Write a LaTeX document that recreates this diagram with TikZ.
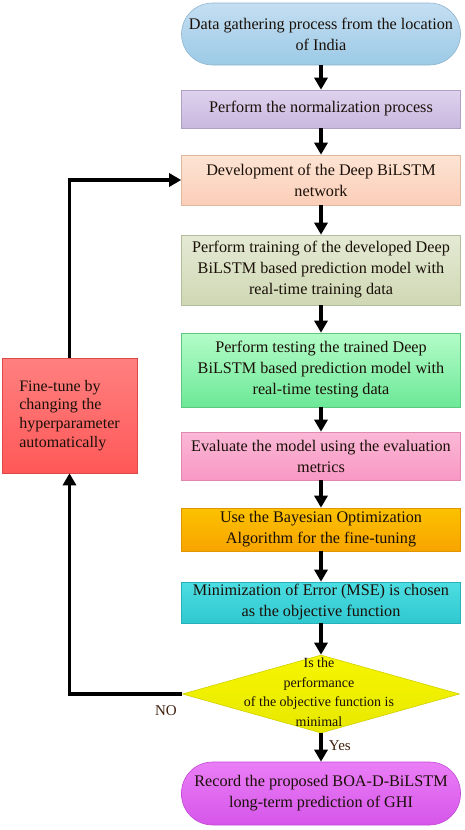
\documentclass[tikz,border=0pt]{standalone}
\usepackage{fontspec}
\setmainfont{Liberation Serif}
\usetikzlibrary{arrows.meta,shapes.geometric}
\definecolor{txt}{HTML}{1A1008}
\definecolor{lbl}{HTML}{40200E}
\tikzset{
  box/.style={rectangle, minimum width=279pt, inner sep=0pt, align=center, text=txt,
    font=\fontsize{16.2}{21}\selectfont, line width=0.6pt},
  arr/.style={line width=3.2pt, -{Triangle[width=13pt,length=12pt]}},
  lab/.style={text=lbl, font=\fontsize{15}{18}\selectfont},
}
\begin{document}
\begin{tikzpicture}[x=1pt,y=1pt]
\useasboundingbox (0,0) rectangle (464,-830);
\node[box, minimum height=62pt, rounded corners=31pt, top color={rgb,255:red,196;green,222;blue,242}, bottom color={rgb,255:red,156;green,202;blue,230}, draw={rgb,255:red,143;green,180;blue,204}] (n1) at (321,-34) {Data gathering process from the location\\of India};
\node[box, minimum height=38pt, top color={rgb,255:red,222;green,210;blue,238}, bottom color={rgb,255:red,200;green,184;blue,222}, draw={rgb,255:red,176;green,160;blue,196}] (n2) at (321,-109) {Perform the normalization process};
\node[box, minimum height=50pt, top color={rgb,255:red,253;green,228;blue,212}, bottom color={rgb,255:red,251;green,206;blue,184}, draw={rgb,255:red,224;green,184;blue,160}] (n3) at (321,-180) {Development of the Deep BiLSTM\\network};
\node[box, minimum height=70pt, top color={rgb,255:red,228;green,234;blue,212}, bottom color={rgb,255:red,207;green,216;blue,180}, draw={rgb,255:red,180;green,188;blue,156}] (n4) at (321,-270) {Perform training of the developed Deep\\BiLSTM based prediction model with\\real-time training data};
\node[box, minimum height=74pt, top color={rgb,255:red,180;green,252;blue,200}, bottom color={rgb,255:red,108;green,232;blue,152}, draw={rgb,255:red,92;green,200;blue,128}] (n5) at (321,-370) {Perform testing the trained Deep\\BiLSTM based prediction model with\\real-time testing data};
\node[box, minimum height=48pt, top color={rgb,255:red,251;green,184;blue,214}, bottom color={rgb,255:red,248;green,152;blue,196}, draw={rgb,255:red,224;green,136;blue,176}] (n6) at (321,-456) {Evaluate the model using the evaluation\\metrics};
\node[box, minimum height=43pt, top color={rgb,255:red,252;green,194;blue,0}, bottom color={rgb,255:red,248;green,164;blue,0}, draw={rgb,255:red,224;green,148;blue,0}] (n7) at (321,-529.5) {Use the Bayesian Optimization\\Algorithm for the fine-tuning};
\node[box, minimum height=41pt, top color={rgb,255:red,76;green,222;blue,226}, bottom color={rgb,255:red,48;green,200;blue,208}, draw={rgb,255:red,40;green,176;blue,184}] (n8) at (321,-602.5) {Minimization of Error (MSE) is chosen\\as the objective function};
\node[diamond, minimum width=277pt, minimum height=78pt, inner sep=0pt, line width=0.6pt, top color={rgb,255:red,246;green,246;blue,0}, bottom color={rgb,255:red,232;green,232;blue,0}, draw={rgb,255:red,208;green,208;blue,0}] (d) at (321,-694) {};
\node[align=center, text=txt, font=\fontsize{14}{19.5}\selectfont, inner sep=0pt] (dtxt) at (319,-692) {Is the\\performance\\of the objective function is\\minimal};
\node[box, minimum height=63pt, rounded corners=31pt, top color={rgb,255:red,234;green,126;blue,246}, bottom color={rgb,255:red,214;green,86;blue,234}, draw={rgb,255:red,192;green,72;blue,212}] (n10) at (321,-793.5) {Record the proposed BOA-D-BiLSTM\\long-term prediction of GHI};
\node[rectangle, minimum width=135pt, minimum height=115pt, inner sep=0pt, align=left, text=txt, font=\fontsize{16}{18.7}\selectfont, line width=0.6pt, top color={rgb,255:red,255;green,128;blue,128}, bottom color={rgb,255:red,255;green,88;blue,88}, draw={rgb,255:red,224;green,72;blue,72}] (ft) at (69.5,-415.5) {Fine-tune by\\changing the\\hyperparameter\\automatically};
\draw[arr] (n1.south) -- (n2.north);
\draw[arr] (n2.south) -- (n3.north);
\draw[arr] (n3.south) -- (n4.north);
\draw[arr] (n4.south) -- (n5.north);
\draw[arr] (n5.south) -- (n6.north);
\draw[arr] (n6.south) -- (n7.north);
\draw[arr] (n7.south) -- (n8.north);
\draw[arr] (n8.south) -- (d.north);
\draw[arr] (d.south) -- node[lab, right=3pt, pos=0.45] (yes) {Yes} (n10.north);
\draw[arr] (d.west) -- (d.west -| ft.south) -- (ft.south);
\draw[arr] (ft.north) |- (n3.west);
\node[lab, anchor=center] (no) at (166,-711) {NO};
\end{tikzpicture}
\end{document}
